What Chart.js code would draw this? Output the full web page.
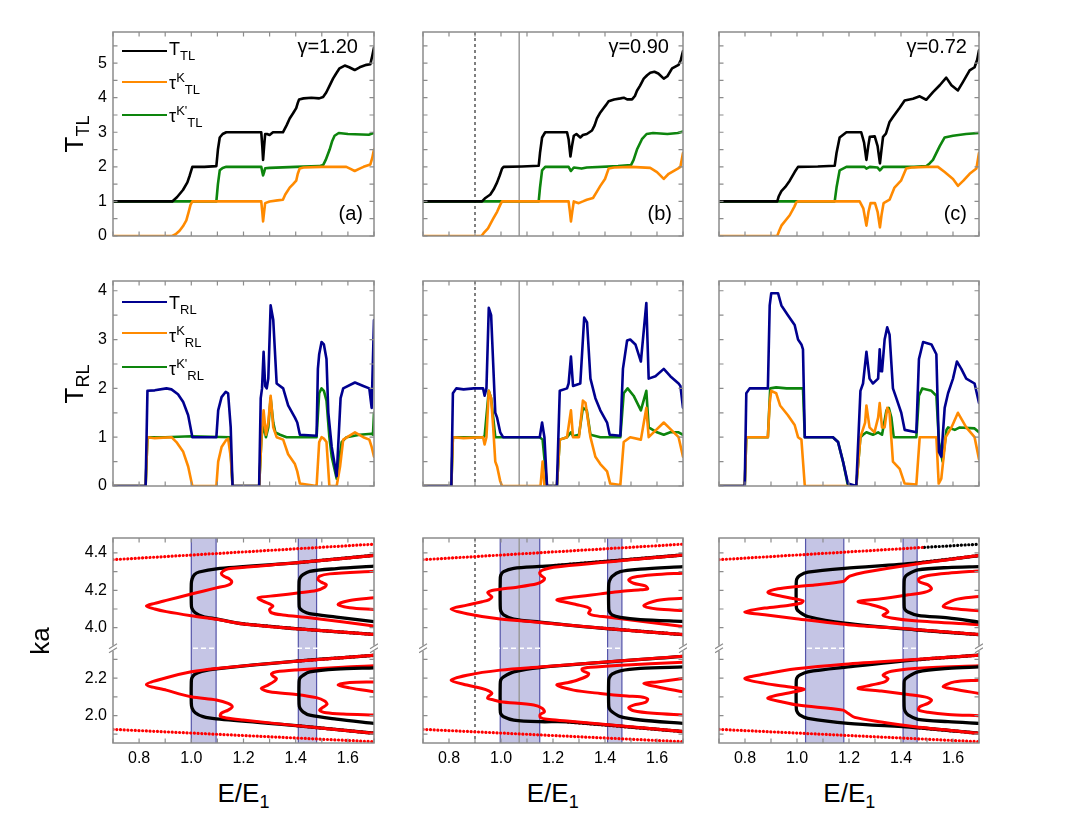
<!DOCTYPE html>
<html><head><meta charset="utf-8">
<script src="https://cdn.jsdelivr.net/npm/chart.js@4.4.1/dist/chart.umd.min.js"></script>
<style>
html,body{margin:0;padding:0;background:#fff;}
#fig{position:relative;width:1072px;height:821px;overflow:hidden;font-family:"Liberation Sans",Arial,Helvetica,sans-serif;color:#000;}
.t{position:absolute;white-space:nowrap;}
.sw{position:absolute;height:2.6px;width:45px;}
sub,sup{line-height:0;}
.lgt{font-size:18px;line-height:20px;}
.lgt sub,.lgt sup{font-size:13px;}
.ax{font-size:26px;line-height:30px;text-align:center;}
.ax sub{font-size:18px;}
.rot{transform:rotate(-90deg);}
.ann{font-size:20px;line-height:22px;}
</style></head>
<body><div id="fig"></div>
<script>
// ---------------- DATA ----------------
const xTicks = [0.8, 1.0, 1.2, 1.4, 1.6];
const xMinor = [0.7, 0.8, 0.9, 1.0, 1.1, 1.2, 1.3, 1.4, 1.5, 1.6, 1.7];
const ttlTicks = [0, 1, 2, 3, 4, 5];
const ttlMinor = [0, 0.5, 1, 1.5, 2, 2.5, 3, 3.5, 4, 4.5, 5, 5.5];
const trlTicks = [0, 1, 2, 3, 4];
const trlMinor = [0, 0.5, 1, 1.5, 2, 2.5, 3, 3.5, 4];
const kaTicks = [2.0, 2.2, 4.0, 4.2, 4.4];
const kaMinor = [1.9, 2.0, 2.1, 2.2, 2.3, 4.0, 4.1, 4.2, 4.3, 4.4];
const gammas = ['1.20', '0.90', '0.72'];
const panelTags = ['(a)', '(b)', '(c)'];

// Row 1: T_TL
const T_TL_a = [[0.7,1],[0.927,1],[0.945,1.12],[0.968,1.33],[0.985,1.55],[0.994,1.75],[1.004,2.0],[1.05,2.0],[1.096,2.02],[1.102,2.5],[1.109,2.85],[1.12,2.95],[1.134,3.0],[1.268,3.0],[1.272,2.6],[1.275,2.2],[1.279,2.6],[1.283,2.95],[1.29,2.95],[1.30,2.92],[1.313,3.0],[1.351,3.0],[1.365,3.2],[1.377,3.4],[1.39,3.55],[1.402,3.7],[1.408,3.85],[1.413,3.95],[1.43,3.98],[1.46,4.0],[1.49,3.98],[1.505,4.02],[1.517,4.15],[1.53,4.35],[1.543,4.55],[1.555,4.7],[1.568,4.85],[1.588,4.93],[1.605,4.88],[1.626,4.8],[1.645,4.88],[1.671,4.95],[1.686,4.97],[1.693,5.2],[1.7,5.45]];
const tauK_TL_a = [[0.7,0],[0.927,0],[0.94,0.05],[0.955,0.15],[0.968,0.28],[0.981,0.45],[0.99,0.7],[0.997,0.9],[1.004,1.0],[1.268,1.0],[1.272,0.7],[1.275,0.42],[1.279,0.7],[1.283,0.95],[1.3,1.0],[1.33,1.03],[1.351,1.05],[1.36,1.2],[1.377,1.4],[1.39,1.5],[1.402,1.6],[1.408,1.8],[1.415,1.95],[1.43,1.98],[1.5,2.0],[1.594,2.0],[1.61,1.94],[1.626,1.88],[1.645,1.95],[1.66,2.0],[1.686,2.07],[1.693,2.25],[1.7,2.5]];
const tauKp_TL_a = [[0.7,1],[1.096,1.0],[1.102,1.5],[1.109,1.9],[1.12,1.97],[1.134,2.0],[1.268,2.0],[1.272,1.85],[1.275,1.75],[1.279,1.85],[1.283,1.96],[1.3,1.97],[1.4,2.0],[1.49,2.02],[1.505,2.05],[1.515,2.2],[1.53,2.5],[1.54,2.75],[1.549,2.9],[1.565,2.98],[1.6,2.95],[1.68,2.93],[1.7,2.98]];

const T_TL_b = [[0.7,1],[0.927,1],[0.94,1.1],[0.959,1.2],[0.972,1.35],[0.985,1.55],[0.995,1.75],[1.004,1.95],[1.01,2.0],[1.08,2.01],[1.145,2.03],[1.15,2.4],[1.158,2.85],[1.17,3.0],[1.254,3.0],[1.26,2.8],[1.267,2.3],[1.273,2.6],[1.28,2.9],[1.29,2.95],[1.305,2.85],[1.315,2.92],[1.33,2.95],[1.35,3.05],[1.36,3.2],[1.369,3.4],[1.38,3.55],[1.395,3.7],[1.405,3.8],[1.414,3.9],[1.435,3.95],[1.46,3.98],[1.472,4.0],[1.485,3.95],[1.504,3.95],[1.515,4.05],[1.523,4.2],[1.535,4.35],[1.549,4.55],[1.562,4.65],[1.574,4.72],[1.59,4.75],[1.605,4.7],[1.626,4.55],[1.64,4.62],[1.658,4.85],[1.683,4.95],[1.692,5.1],[1.7,5.35]];
const tauK_TL_b = [[0.7,0],[0.925,0],[0.933,0.08],[0.95,0.22],[0.97,0.5],[0.985,0.7],[0.997,0.9],[1.004,1.0],[1.26,1.0],[1.265,0.7],[1.269,0.42],[1.274,0.7],[1.28,1.0],[1.299,0.95],[1.315,1.0],[1.33,1.05],[1.354,1.1],[1.37,1.3],[1.382,1.45],[1.4,1.65],[1.414,1.95],[1.435,1.98],[1.5,2.0],[1.574,1.97],[1.6,1.85],[1.626,1.65],[1.645,1.8],[1.68,1.95],[1.69,2.0],[1.7,2.4]];
const tauKp_TL_b = [[0.7,1],[1.145,1.0],[1.15,1.4],[1.158,1.9],[1.17,2.0],[1.26,2.0],[1.269,1.88],[1.28,1.98],[1.31,1.95],[1.33,1.98],[1.45,2.02],[1.5,2.05],[1.51,2.2],[1.523,2.5],[1.542,2.8],[1.56,2.95],[1.585,2.98],[1.64,2.95],[1.68,2.98],[1.7,3.02]];

const T_TL_c = [[0.7,1],[0.924,1],[0.93,1.15],[0.94,1.3],[0.955,1.42],[0.972,1.6],[0.991,1.85],[1.004,2.0],[1.08,2.01],[1.145,2.03],[1.152,2.4],[1.164,2.85],[1.19,3.0],[1.247,3.0],[1.258,2.7],[1.267,2.2],[1.274,2.6],[1.28,2.87],[1.299,2.88],[1.31,2.6],[1.319,2.1],[1.325,2.5],[1.331,2.87],[1.342,2.96],[1.356,3.3],[1.369,3.44],[1.395,3.71],[1.414,3.92],[1.446,3.97],[1.472,4.04],[1.497,3.94],[1.523,4.16],[1.549,4.36],[1.574,4.58],[1.594,4.36],[1.619,4.21],[1.638,4.45],[1.664,4.79],[1.683,4.88],[1.693,5.1],[1.7,5.37]];
const tauK_TL_c = [[0.7,0],[0.924,0],[0.93,0.12],[0.94,0.3],[0.972,0.6],[0.99,0.85],[0.997,0.97],[1.004,1.0],[1.241,1.0],[1.255,0.8],[1.267,0.3],[1.275,0.7],[1.283,0.95],[1.3,0.95],[1.31,0.7],[1.319,0.25],[1.325,0.6],[1.333,0.95],[1.356,1.05],[1.375,1.4],[1.4,1.6],[1.42,1.95],[1.44,1.98],[1.5,2.0],[1.542,2.0],[1.568,1.85],[1.6,1.65],[1.619,1.45],[1.64,1.6],[1.664,1.8],[1.69,1.95],[1.7,2.4]];
const tauKp_TL_c = [[0.7,1],[1.145,1.0],[1.152,1.4],[1.164,1.9],[1.19,2.0],[1.26,2.0],[1.267,1.95],[1.28,2.0],[1.31,1.98],[1.319,1.9],[1.331,2.0],[1.45,2.0],[1.497,2.02],[1.51,2.1],[1.523,2.2],[1.549,2.6],[1.568,2.85],[1.6,2.9],[1.65,2.95],[1.7,2.98]];

// Row 2: T_RL
const T_RL_a = [[0.7,0],[0.825,0],[0.832,1.95],[0.86,1.96],[0.905,2.0],[0.924,1.98],[0.949,1.88],[0.969,1.72],[0.988,1.45],[0.997,1.2],[1.004,1.0],[1.096,1.0],[1.103,1.55],[1.116,1.82],[1.132,1.93],[1.141,1.9],[1.151,1.2],[1.158,0],[1.26,0],[1.266,1.8],[1.271,2.0],[1.277,2.75],[1.283,2.05],[1.289,2.0],[1.295,2.2],[1.304,3.7],[1.314,3.4],[1.327,2.1],[1.352,2.0],[1.371,1.65],[1.397,1.4],[1.406,1.3],[1.416,1.05],[1.48,1.03],[1.485,2.4],[1.49,2.7],[1.499,2.95],[1.508,2.9],[1.518,2.6],[1.525,1.5],[1.538,0.8],[1.557,0.2],[1.572,1.8],[1.582,2.0],[1.627,2.12],[1.659,2.05],[1.682,2.0],[1.691,1.6],[1.7,3.4]];
const tauK_RL_a = [[0.7,0],[0.825,0],[0.832,1.0],[0.86,0.98],[0.924,1.0],[0.943,0.9],[0.969,0.7],[0.988,0.4],[1.004,0],[1.096,0],[1.103,0.5],[1.116,0.8],[1.132,0.93],[1.141,0.97],[1.151,0.6],[1.158,0],[1.26,0],[1.269,1.0],[1.277,1.55],[1.286,1.05],[1.295,1.3],[1.304,1.85],[1.314,1.2],[1.327,1.0],[1.352,0.95],[1.371,0.65],[1.397,0.45],[1.406,0.3],[1.416,0.05],[1.48,0],[1.49,0.9],[1.499,1.0],[1.508,0.97],[1.518,0.9],[1.529,0],[1.557,0],[1.57,0.4],[1.582,0.95],[1.627,1.1],[1.659,1.0],[1.682,0.95],[1.691,0.8],[1.7,0.6]];
const tauKp_RL_a = [[0.7,0],[0.825,0],[0.832,1.0],[0.9,1.0],[1.0,1.02],[1.148,1.0],[1.158,0],[1.26,0],[1.269,1.0],[1.277,1.25],[1.286,1.0],[1.295,1.2],[1.304,1.8],[1.314,1.3],[1.322,1.1],[1.34,1.05],[1.365,1.0],[1.48,1.0],[1.49,1.9],[1.499,2.0],[1.508,1.95],[1.518,1.75],[1.529,1.0],[1.538,0.6],[1.557,0.15],[1.576,0.9],[1.595,1.0],[1.645,1.05],[1.691,1.07],[1.696,1.05],[1.7,1.5]];

const T_RL_b = [[0.7,0],[0.809,0],[0.815,1.9],[0.828,2.0],[0.856,1.98],[0.895,2.0],[0.931,2.0],[0.937,1.85],[0.944,2.0],[0.953,3.65],[0.962,3.5],[0.97,2.5],[0.978,1.5],[0.985,1.4],[0.997,1.1],[1.008,1.0],[1.149,1.0],[1.158,1.3],[1.167,1.0],[1.177,0],[1.215,0],[1.226,1.95],[1.254,2.0],[1.26,2.1],[1.269,2.65],[1.277,2.05],[1.305,2.1],[1.32,3.45],[1.331,3.35],[1.344,2.2],[1.363,1.8],[1.382,1.55],[1.408,1.3],[1.418,1.05],[1.459,1.03],[1.469,2.4],[1.485,2.98],[1.497,3.0],[1.517,2.9],[1.538,2.55],[1.559,3.75],[1.568,2.2],[1.594,2.25],[1.626,2.4],[1.651,2.25],[1.683,2.1],[1.69,2.05],[1.7,1.6]];
const tauK_RL_b = [[0.7,0],[0.809,0],[0.815,1.0],[0.856,0.98],[0.931,1.0],[0.937,0.85],[0.944,1.0],[0.953,1.95],[0.962,1.8],[0.97,1.2],[0.978,0.5],[0.985,0.4],[0.997,0.1],[1.004,0],[1.152,0],[1.16,0.5],[1.167,0],[1.215,0],[1.226,0.95],[1.254,1.0],[1.269,1.55],[1.277,1.0],[1.3,1.0],[1.315,1.75],[1.325,1.7],[1.344,1.0],[1.363,0.6],[1.382,0.45],[1.408,0.3],[1.42,0.05],[1.459,0.02],[1.472,0.9],[1.497,1.0],[1.538,0.95],[1.559,1.6],[1.568,1.0],[1.587,1.1],[1.626,1.3],[1.645,1.2],[1.683,1.0],[1.7,0.6]];
const tauKp_RL_b = [[0.7,0],[0.809,0],[0.815,1.0],[0.931,1.0],[0.937,1.02],[0.953,1.95],[0.962,1.8],[0.97,1.4],[0.978,1.0],[1.149,1.0],[1.16,0.95],[1.177,0],[1.215,0],[1.226,0.95],[1.254,1.0],[1.269,1.1],[1.277,1.02],[1.3,1.05],[1.315,1.6],[1.33,1.55],[1.344,1.05],[1.382,1.0],[1.459,1.0],[1.472,1.9],[1.487,2.0],[1.51,1.85],[1.538,1.55],[1.559,1.95],[1.568,1.2],[1.6,1.1],[1.626,1.05],[1.651,1.1],[1.683,1.1],[1.7,1.05]];

const T_RL_c = [[0.7,0],[0.799,0],[0.805,1.9],[0.818,2.0],[0.888,2.0],[0.895,3.7],[0.901,3.95],[0.927,3.95],[0.94,3.7],[0.965,3.5],[0.991,3.3],[1.004,3.0],[1.017,2.9],[1.023,2.8],[1.03,1.0],[1.138,1.0],[1.158,0.9],[1.177,0.5],[1.196,0.05],[1.228,0],[1.244,1.95],[1.254,2.1],[1.267,2.75],[1.279,2.2],[1.292,2.1],[1.312,2.2],[1.318,2.8],[1.323,2.35],[1.327,2.35],[1.337,3.0],[1.347,3.25],[1.356,3.1],[1.369,2.0],[1.382,1.8],[1.401,1.5],[1.414,1.15],[1.459,1.1],[1.469,2.6],[1.485,2.95],[1.517,2.9],[1.536,2.7],[1.546,0.7],[1.555,0.6],[1.568,1.6],[1.581,1.9],[1.6,2.2],[1.615,2.55],[1.632,2.4],[1.651,2.2],[1.683,2.1],[1.7,1.7]];
const tauK_RL_c = [[0.7,0],[0.799,0],[0.805,1.0],[0.888,1.0],[0.895,1.7],[0.901,1.95],[0.92,1.9],[0.935,1.65],[0.965,1.45],[0.991,1.25],[1.004,1.0],[1.017,0.95],[1.03,0],[1.228,0],[1.244,1.0],[1.262,1.3],[1.267,1.65],[1.279,1.2],[1.298,1.1],[1.312,1.4],[1.318,1.7],[1.327,1.2],[1.337,1.2],[1.347,1.6],[1.356,1.5],[1.369,0.5],[1.395,0.35],[1.414,0.05],[1.459,0.03],[1.472,1.0],[1.517,1.0],[1.536,1.0],[1.545,0.05],[1.555,0.15],[1.572,1.0],[1.594,1.2],[1.619,1.5],[1.651,1.2],[1.683,1.0],[1.7,0.55]];
const tauKp_RL_c = [[0.7,0],[0.799,0],[0.805,1.0],[0.888,1.0],[0.897,2.0],[0.92,2.02],[0.96,2.0],[1.023,2.0],[1.03,1.0],[1.138,1.0],[1.158,0.9],[1.177,0.5],[1.196,0],[1.228,0],[1.244,1.0],[1.254,1.05],[1.267,1.1],[1.292,1.05],[1.312,1.1],[1.327,1.05],[1.344,1.55],[1.353,1.6],[1.363,1.4],[1.372,1.0],[1.459,1.0],[1.469,1.85],[1.482,2.0],[1.517,1.95],[1.536,1.85],[1.546,0.9],[1.56,0.5],[1.575,1.15],[1.581,1.2],[1.607,1.15],[1.626,1.2],[1.683,1.18],[1.7,1.1]];

// Row 3: ka bands (E, ka)
const bands_a = [[1.0, 1.095], [1.41, 1.48]];
const bands_b = [[0.997, 1.149], [1.41, 1.465]];
const bands_c = [[1.033, 1.18], [1.408, 1.462]];
const dashedE_b = 0.9;
const solidE_b = 1.07;
const overlapFrom = [1.16, 1.2, 1.21];   // E beyond which red and black outer branches coincide

const kaTopLine = [[0.7,4.364],[1.7,4.447]];
const kaBotLine = [[0.7,1.926],[1.7,1.86]];
const kaTopLine_cRed = [[0.7,4.364],[1.49,4.43]];
const kaTopLine_cBlack = [[1.49,4.43],[1.7,4.447]];

const kaA_blackU1 = [[1.7,3.964],[1.4,3.995],[1.2,4.02],[1.096,4.047],[1.045,4.06],[1.015,4.08],[1.002,4.105],[1.0,4.13],[1.0,4.235],[1.003,4.26],[1.012,4.284],[1.03,4.298],[1.096,4.315],[1.4,4.347],[1.7,4.387]];
const kaA_redU1 = [[1.7,3.964],[1.4,3.995],[1.2,4.02],[1.096,4.045],[1.0,4.064],[0.904,4.086],[0.86,4.1],[0.828,4.116],[0.86,4.13],[0.904,4.146],[1.0,4.18],[1.096,4.213],[1.141,4.228],[1.155,4.245],[1.145,4.262],[1.125,4.275],[1.115,4.29],[1.13,4.31],[1.16,4.318],[1.4,4.347],[1.7,4.387]];
const kaA_redU2 = [[1.7,4.009],[1.453,4.053],[1.351,4.068],[1.307,4.08],[1.3,4.098],[1.313,4.116],[1.3,4.128],[1.275,4.142],[1.256,4.16],[1.326,4.172],[1.415,4.187],[1.479,4.199],[1.511,4.217],[1.517,4.231],[1.498,4.244],[1.485,4.258],[1.492,4.276],[1.53,4.288],[1.7,4.302]];
const kaA_blackU2 = [[1.7,4.032],[1.556,4.057],[1.453,4.075],[1.428,4.089],[1.415,4.105],[1.413,4.13],[1.413,4.245],[1.416,4.265],[1.428,4.284],[1.454,4.302],[1.556,4.316],[1.7,4.329]];
const kaA_redU3 = [[1.7,4.098],[1.607,4.107],[1.562,4.124],[1.607,4.146],[1.7,4.16]];
const kaA_redL1 = [[1.7,2.322],[1.402,2.291],[1.096,2.252],[1.0,2.234],[0.904,2.202],[0.828,2.166],[0.904,2.136],[1.0,2.1],[1.096,2.083],[1.141,2.065],[1.157,2.047],[1.141,2.029],[1.115,2.012],[1.111,1.997],[1.134,1.987],[1.198,1.976],[1.402,1.946],[1.7,1.905]];
const kaA_blackL1 = [[1.7,2.322],[1.402,2.291],[1.096,2.25],[1.04,2.236],[1.013,2.22],[1.002,2.2],[1.0,2.18],[1.0,2.065],[1.003,2.04],[1.015,2.015],[1.045,1.994],[1.096,1.982],[1.402,1.946],[1.7,1.905]];
const kaA_redL2 = [[1.7,2.266],[1.581,2.259],[1.402,2.244],[1.326,2.234],[1.307,2.223],[1.313,2.211],[1.326,2.198],[1.319,2.184],[1.294,2.163],[1.268,2.145],[1.3,2.127],[1.402,2.113],[1.479,2.096],[1.511,2.078],[1.52,2.06],[1.502,2.042],[1.492,2.028],[1.517,2.015],[1.581,2.008],[1.7,2.003]];
const kaA_blackL2 = [[1.7,2.255],[1.556,2.248],[1.454,2.233],[1.428,2.215],[1.416,2.2],[1.413,2.18],[1.413,2.06],[1.416,2.04],[1.428,2.02],[1.454,2.002],[1.556,1.981],[1.7,1.958]];
const kaA_redL3 = [[1.7,2.18],[1.607,2.177],[1.562,2.163],[1.607,2.148],[1.7,2.127]];

const kaB_redU1 = [[1.7,3.963],[1.382,3.998],[1.149,4.028],[0.997,4.046],[0.869,4.075],[0.808,4.1],[0.869,4.121],[0.927,4.139],[0.953,4.149],[0.965,4.164],[0.956,4.176],[0.949,4.188],[0.965,4.199],[0.997,4.206],[1.062,4.217],[1.138,4.235],[1.162,4.251],[1.167,4.265],[1.154,4.279],[1.149,4.295],[1.162,4.309],[1.203,4.324],[1.7,4.389]];
const kaB_blackU1 = [[1.7,3.963],[1.382,3.998],[1.149,4.03],[1.049,4.046],[1.01,4.069],[0.999,4.09],[0.997,4.12],[0.997,4.25],[0.999,4.28],[1.01,4.3],[1.049,4.318],[1.149,4.328],[1.203,4.332],[1.7,4.389]];
const kaB_redU2 = [[1.7,4.007],[1.408,4.057],[1.356,4.066],[1.337,4.078],[1.344,4.096],[1.331,4.11],[1.292,4.123],[1.254,4.135],[1.215,4.149],[1.279,4.164],[1.382,4.181],[1.459,4.194],[1.536,4.203],[1.564,4.208],[1.555,4.224],[1.51,4.238],[1.491,4.256],[1.51,4.27],[1.587,4.283],[1.7,4.292]];
const kaB_blackU2 = [[1.7,4.034],[1.536,4.043],[1.459,4.055],[1.427,4.069],[1.416,4.09],[1.414,4.12],[1.414,4.225],[1.417,4.25],[1.427,4.274],[1.459,4.3],[1.536,4.313],[1.7,4.327]];
const kaB_redU3 = [[1.7,4.092],[1.6,4.1],[1.549,4.117],[1.6,4.146],[1.7,4.158]];
const kaB_redL1 = [[1.7,2.317],[1.149,2.26],[0.997,2.243],[0.869,2.216],[0.808,2.189],[0.869,2.163],[0.927,2.145],[0.953,2.132],[0.965,2.118],[0.953,2.104],[0.949,2.092],[0.972,2.083],[0.997,2.074],[1.126,2.056],[1.158,2.039],[1.167,2.02],[1.151,2.006],[1.151,1.99],[1.177,1.98],[1.254,1.971],[1.7,1.914]];
const kaB_blackL1 = [[1.7,2.317],[1.149,2.257],[1.049,2.234],[1.01,2.207],[0.999,2.19],[0.997,2.165],[0.997,2.03],[0.999,2.01],[1.01,1.994],[1.049,1.976],[1.149,1.967],[1.254,1.966],[1.7,1.914]];
const kaB_redL2 = [[1.7,2.285],[1.446,2.268],[1.344,2.258],[1.312,2.25],[1.315,2.239],[1.337,2.225],[1.331,2.211],[1.292,2.189],[1.254,2.175],[1.215,2.163],[1.279,2.136],[1.382,2.118],[1.485,2.104],[1.536,2.1],[1.564,2.088],[1.555,2.07],[1.51,2.056],[1.491,2.042],[1.51,2.026],[1.587,2.012],[1.7,2.003]];
const kaB_blackL2 = [[1.7,2.26],[1.536,2.252],[1.459,2.239],[1.427,2.221],[1.416,2.2],[1.414,2.18],[1.414,2.065],[1.416,2.04],[1.427,2.02],[1.459,1.994],[1.536,1.976],[1.7,1.958]];
const kaB_redL3 = [[1.7,2.198],[1.6,2.18],[1.549,2.172],[1.6,2.154],[1.7,2.127]];

const kaC_redU1 = [[1.7,3.963],[1.453,3.991],[1.196,4.016],[0.997,4.048],[0.876,4.069],[0.799,4.084],[0.876,4.105],[0.965,4.119],[1.017,4.132],[1.023,4.144],[0.991,4.155],[0.914,4.176],[0.888,4.19],[0.927,4.208],[0.997,4.22],[1.068,4.229],[1.177,4.247],[1.19,4.261],[1.203,4.276],[1.26,4.297],[1.453,4.34],[1.7,4.386]];
const kaC_blackU1 = [[1.7,3.963],[1.453,3.989],[1.183,4.025],[1.042,4.06],[1.01,4.084],[0.999,4.1],[0.997,4.125],[0.997,4.235],[0.999,4.26],[1.01,4.279],[1.042,4.297],[1.183,4.318],[1.453,4.345],[1.7,4.386]];
const kaC_redU2 = [[1.7,4.016],[1.453,4.037],[1.363,4.052],[1.331,4.066],[1.35,4.084],[1.337,4.101],[1.286,4.123],[1.235,4.14],[1.324,4.155],[1.427,4.176],[1.491,4.19],[1.517,4.208],[1.504,4.229],[1.472,4.244],[1.468,4.261],[1.504,4.279],[1.581,4.292],[1.7,4.304]];
const kaC_blackU2 = [[1.7,4.03],[1.581,4.052],[1.465,4.066],[1.427,4.084],[1.414,4.1],[1.412,4.125],[1.412,4.245],[1.415,4.27],[1.427,4.286],[1.465,4.309],[1.581,4.322],[1.7,4.327]];
const kaC_redU3 = [[1.7,4.091],[1.606,4.101],[1.562,4.114],[1.606,4.149],[1.7,4.167]];
const kaC_redL1 = [[1.7,2.323],[1.453,2.3],[1.183,2.275],[0.997,2.25],[0.876,2.222],[0.799,2.198],[0.876,2.172],[0.965,2.154],[1.027,2.141],[0.991,2.127],[0.914,2.106],[0.888,2.092],[0.94,2.074],[1.004,2.056],[1.177,2.029],[1.196,2.012],[1.222,1.99],[1.324,1.965],[1.453,1.94],[1.7,1.905]];
const kaC_blackL1 = [[1.7,2.323],[1.453,2.298],[1.196,2.26],[1.042,2.234],[1.01,2.216],[0.999,2.2],[0.997,2.18],[0.997,2.05],[0.999,2.025],[1.01,2.003],[1.042,1.985],[1.196,1.958],[1.453,1.936],[1.7,1.905]];
const kaC_redL2 = [[1.7,2.266],[1.453,2.252],[1.363,2.237],[1.331,2.216],[1.35,2.198],[1.337,2.18],[1.286,2.163],[1.235,2.145],[1.324,2.131],[1.427,2.113],[1.491,2.1],[1.517,2.083],[1.504,2.065],[1.472,2.047],[1.468,2.029],[1.504,2.017],[1.581,2.006],[1.7,1.999]];
const kaC_blackL2 = [[1.7,2.26],[1.581,2.252],[1.465,2.234],[1.427,2.207],[1.414,2.19],[1.412,2.172],[1.412,2.05],[1.415,2.025],[1.427,2.003],[1.465,1.98],[1.581,1.967],[1.7,1.958]];
const kaC_redL3 = [[1.7,2.189],[1.606,2.18],[1.562,2.154],[1.606,2.141],[1.7,2.118]];

// ---------------- LAYOUT / STYLE ----------------
const FONT = '"Liberation Sans", Arial, Helvetica, sans-serif';
const COL_L = [113, 423, 719], COL_W = [261, 260, 260];
const ROW_T = [32, 281, 538], ROW_H = [204, 205, 205];
const KA_SHIFT = 1.53;              // removes the 2.36..3.89 gap of the broken ka axis
const KA_BREAK = 2.36;
const kaT = v => (v > 3 ? v - KA_SHIFT : v);
const C = {black:'#000000', orange:'#ff8a00', green:'#0d850d', blue:'#00008f', red:'#ff0000', frame:'#8c8c8c'};
const fig = document.getElementById('fig');

function ds(pts, color, width, extra, tf) {
  const f = tf || (v => v);
  return Object.assign({
    data: pts.map(p => ({x: p[0], y: f(p[1])})),
    borderColor: color, backgroundColor: color, borderWidth: width,
    showLine: true, pointRadius: 0, pointHoverRadius: 0, fill: false, tension: 0,
    borderJoinStyle: 'round', borderCapStyle: 'round'
  }, extra || {});
}
// outer branches only (points below the E threshold become gaps)
function outerDs(pts, thr, color, width, extra) {
  return Object.assign({
    data: pts.map(p => ({x: p[0], y: p[0] >= thr ? kaT(p[1]) : null})),
    borderColor: color, backgroundColor: color, borderWidth: width,
    showLine: true, pointRadius: 0, pointHoverRadius: 0, fill: false, tension: 0.3, spanGaps: false
  }, extra || {});
}

function decoPlugin(cfg) {
  return {
    id: 'deco',
    beforeDatasetsDraw(chart) {
      const {ctx, chartArea: a, scales: {x, y}} = chart;
      ctx.save();
      if (cfg.bands) {
        cfg.bands.forEach(b => {
          const x1 = x.getPixelForValue(b[0]), x2 = x.getPixelForValue(b[1]);
          ctx.fillStyle = 'rgba(178,178,220,0.75)';
          ctx.fillRect(x1, a.top, x2 - x1, a.bottom - a.top);
          ctx.strokeStyle = '#5555aa'; ctx.lineWidth = 1.2;
          ctx.beginPath(); ctx.moveTo(x1, a.top); ctx.lineTo(x1, a.bottom);
          ctx.moveTo(x2, a.top); ctx.lineTo(x2, a.bottom); ctx.stroke();
        });
        const yb = y.getPixelForValue(KA_BREAK);
        ctx.strokeStyle = '#ffffff'; ctx.lineWidth = 1.5; ctx.setLineDash([5, 3]);
        ctx.beginPath(); ctx.moveTo(a.left, yb); ctx.lineTo(a.right, yb); ctx.stroke();
        ctx.setLineDash([]);
      }
      if (cfg.markers) {
        const xs = x.getPixelForValue(solidE_b);
        ctx.strokeStyle = '#9a9a9a'; ctx.lineWidth = 1.5;
        ctx.beginPath(); ctx.moveTo(xs, a.top); ctx.lineTo(xs, a.bottom); ctx.stroke();
        const xd = x.getPixelForValue(dashedE_b);
        ctx.strokeStyle = '#000'; ctx.lineWidth = 1; ctx.setLineDash([3, 3]);
        ctx.beginPath(); ctx.moveTo(xd, a.top); ctx.lineTo(xd, a.bottom); ctx.stroke();
        ctx.setLineDash([]);
      }
      ctx.restore();
    },
    afterDatasetsDraw(chart) {
      const {ctx, chartArea: a, scales: {x, y}} = chart;
      ctx.save();
      ctx.strokeStyle = C.frame; ctx.lineWidth = 1.5;
      ctx.strokeRect(a.left, a.top, a.right - a.left, a.bottom - a.top);
      const L = 4.5;
      ctx.lineWidth = 1.2;
      ctx.beginPath();
      xMinor.forEach(v => {
        const px = x.getPixelForValue(v);
        ctx.moveTo(px, a.bottom); ctx.lineTo(px, a.bottom - L);
        ctx.moveTo(px, a.top); ctx.lineTo(px, a.top + L);
      });
      cfg.yMinor.forEach(v => {
        const py = y.getPixelForValue(cfg.tf ? cfg.tf(v) : v);
        ctx.moveTo(a.left, py); ctx.lineTo(a.left + L, py);
        ctx.moveTo(a.right, py); ctx.lineTo(a.right - L, py);
      });
      ctx.stroke();
      if (cfg.bands) {
        const yb = y.getPixelForValue(KA_BREAK);
        [a.left, a.right].forEach(px => {
          ctx.fillStyle = '#fff';
          ctx.fillRect(px - 2, yb - 2.5, 4, 5);
          ctx.strokeStyle = C.frame; ctx.lineWidth = 1.1;
          ctx.beginPath();
          ctx.moveTo(px - 4, yb + 0.5); ctx.lineTo(px + 4, yb - 4.5);
          ctx.moveTo(px - 4, yb + 4.5); ctx.lineTo(px + 4, yb - 0.5);
          ctx.stroke();
        });
      }
      ctx.restore();
    }
  };
}

function noPad(s) { s.paddingTop = 0; s.paddingBottom = 0; s.paddingLeft = 0; s.paddingRight = 0; }

function panel(row, col, datasets, yc, deco) {
  const padL = col === 0 ? 60 : 4, padR = 4, padT = 4, padB = row === 2 ? 34 : 4;
  const L = COL_L[col], T = ROW_T[row], W = COL_W[col], H = ROW_H[row];
  const cw = padL + W + padR, ch = padT + H + padB;
  const cv = document.createElement('canvas');
  cv.width = cw; cv.height = ch;
  cv.style.cssText = `position:absolute;left:${L - padL}px;top:${T - padT}px;width:${cw}px;height:${ch}px;`;
  fig.appendChild(cv);
  new Chart(cv, {
    type: 'scatter',
    data: {datasets},
    options: {
      responsive: false, animation: false, events: [],
      layout: {padding: {left: 0, right: padR, top: padT, bottom: 0}},
      plugins: {legend: {display: false}, tooltip: {enabled: false}},
      scales: {
        x: {
          type: 'linear', min: 0.7, max: 1.7,
          grid: {display: false, drawTicks: false}, border: {display: false},
          ticks: {display: row === 2, color: '#000', font: {family: FONT, size: 16}, padding: 6,
                  maxRotation: 0, autoSkip: false, callback: v => Number(v).toFixed(1)},
          afterBuildTicks: s => { s.ticks = xTicks.map(v => ({value: v})); },
          afterFit: s => { s.height = padB; noPad(s); }
        },
        y: {
          type: 'linear', min: yc.min, max: yc.max,
          grid: {display: false, drawTicks: false}, border: {display: false},
          ticks: {display: col === 0, color: '#000', font: {family: FONT, size: 16}, padding: 6,
                  autoSkip: false, callback: yc.fmt},
          afterBuildTicks: s => { s.ticks = yc.ticks.map(v => ({value: yc.tf ? yc.tf(v) : v})); },
          afterFit: s => { s.width = padL; noPad(s); }
        }
      }
    },
    plugins: [decoPlugin(Object.assign({yMinor: yc.minor, tf: yc.tf}, deco))]
  });
}

// ---------------- BUILD ----------------
const ttlY = {min: 0, max: 5.9, ticks: ttlTicks, minor: ttlMinor, fmt: v => String(Math.round(v))};
const trlY = {min: 0, max: 4.2, ticks: trlTicks, minor: trlMinor, fmt: v => String(Math.round(v))};
const kaY = {min: 1.853, max: 2.95, ticks: kaTicks, minor: kaMinor, tf: kaT,
             fmt: v => (v > KA_BREAK ? v + KA_SHIFT : v).toFixed(1)};

const rowTL = [[T_TL_a, tauK_TL_a, tauKp_TL_a], [T_TL_b, tauK_TL_b, tauKp_TL_b], [T_TL_c, tauK_TL_c, tauKp_TL_c]];
const rowRL = [[T_RL_a, tauK_RL_a, tauKp_RL_a], [T_RL_b, tauK_RL_b, tauKp_RL_b], [T_RL_c, tauK_RL_c, tauKp_RL_c]];
rowTL.forEach((s, c) => panel(0, c, [ds(s[0], C.black, 2.6), ds(s[1], C.orange, 2.6), ds(s[2], C.green, 2.6)], ttlY, {markers: c === 1}));
rowRL.forEach((s, c) => panel(1, c, [ds(s[0], C.blue, 2.6), ds(s[1], C.orange, 2.6), ds(s[2], C.green, 2.6)], trlY, {markers: c === 1}));

const dotted = {borderDash: [0.1, 3.6], borderWidth: 3.2, borderCapStyle: 'round'};
const curve = {tension: 0.3};
// blacks: [U1, U2, L1, L2]; reds: [U1, U2, U3, L1, L2, L3]
function kaSets(blacks, reds, thr, topRed, topBlack) {
  const out = [];
  out.push(ds(topRed, C.red, 3.2, dotted, kaT));
  if (topBlack) out.push(ds(topBlack, C.black, 3.2, dotted, kaT));
  out.push(ds(kaBotLine, C.red, 3.2, dotted, kaT));
  [reds[0], reds[3]].forEach(r => out.push(ds(r, C.red, 3, curve, kaT)));
  blacks.forEach(b => out.push(ds(b, C.black, 3.3, curve, kaT)));
  [reds[1], reds[2], reds[4], reds[5]].forEach(r => out.push(ds(r, C.red, 3, curve, kaT)));
  [blacks[0], blacks[2]].forEach(b => out.push(outerDs(b, thr, C.red, 3.3, {borderDash: [2.2, 1.6], borderCapStyle: 'butt'})));
  return out;
}
panel(2, 0, kaSets([kaA_blackU1, kaA_blackU2, kaA_blackL1, kaA_blackL2], [kaA_redU1, kaA_redU2, kaA_redU3, kaA_redL1, kaA_redL2, kaA_redL3], overlapFrom[0], kaTopLine), kaY, {bands: bands_a});
panel(2, 1, kaSets([kaB_blackU1, kaB_blackU2, kaB_blackL1, kaB_blackL2], [kaB_redU1, kaB_redU2, kaB_redU3, kaB_redL1, kaB_redL2, kaB_redL3], overlapFrom[1], kaTopLine), kaY, {bands: bands_b, markers: true});
panel(2, 2, kaSets([kaC_blackU1, kaC_blackU2, kaC_blackL1, kaC_blackL2], [kaC_redU1, kaC_redU2, kaC_redU3, kaC_redL1, kaC_redL2, kaC_redL3], overlapFrom[2], kaTopLine_cRed, kaTopLine_cBlack), kaY, {bands: bands_c});

// ---------------- TEXT ----------------
function addText(html, cls, style) {
  const d = document.createElement('div');
  d.className = 't ' + cls; d.innerHTML = html; d.style.cssText = style;
  fig.appendChild(d); return d;
}
function swatch(x, y, color) {
  const d = document.createElement('div');
  d.className = 'sw'; d.style.cssText = `left:${x}px;top:${y - 1.3}px;background:${color};`;
  fig.appendChild(d);
}
// legends
const legTop = [['T<sub>TL</sub>', C.black, 51, 39], ['τ<sup>K</sup><sub>TL</sub>', C.orange, 82, 73], ["τ<sup>K'</sup><sub>TL</sub>", C.green, 115, 106]];
const legMid = [['T<sub>RL</sub>', C.blue, 302, 293], ['τ<sup>K</sup><sub>RL</sub>', C.orange, 333, 326], ["τ<sup>K'</sup><sub>RL</sub>", C.green, 367, 359]];
[legTop, legMid].forEach(lg => lg.forEach(r => { swatch(122, r[2], r[1]); addText(r[0], 'lgt', `left:169px;top:${r[3]}px;`); }));

// gamma + panel tags
const gRight = [358, 669, 967], tagRight = [363, 672, 967];
gammas.forEach((g, i) => addText('γ=' + g, 'ann', `right:${1072 - gRight[i]}px;top:35px;`));
panelTags.forEach((p, i) => addText(p, 'ann', `right:${1072 - tagRight[i]}px;top:202px;`));

// axis titles
function rotTitle(html, cx, cy) {
  const w = 120, h = 30;
  addText(html, 'ax rot', `left:${cx - w / 2}px;top:${cy - h / 2}px;width:${w}px;height:${h}px;`);
}
rotTitle('T<sub>TL</sub>', 74, 134);
rotTitle('T<sub>RL</sub>', 74, 384);
rotTitle('ka', 40, 641);
[243.5, 552.7, 849.3].forEach(cx => addText('E/E<sub>1</sub>', 'ax', `left:${cx - 60}px;top:778px;width:120px;height:30px;`));
</script>
</body></html>
